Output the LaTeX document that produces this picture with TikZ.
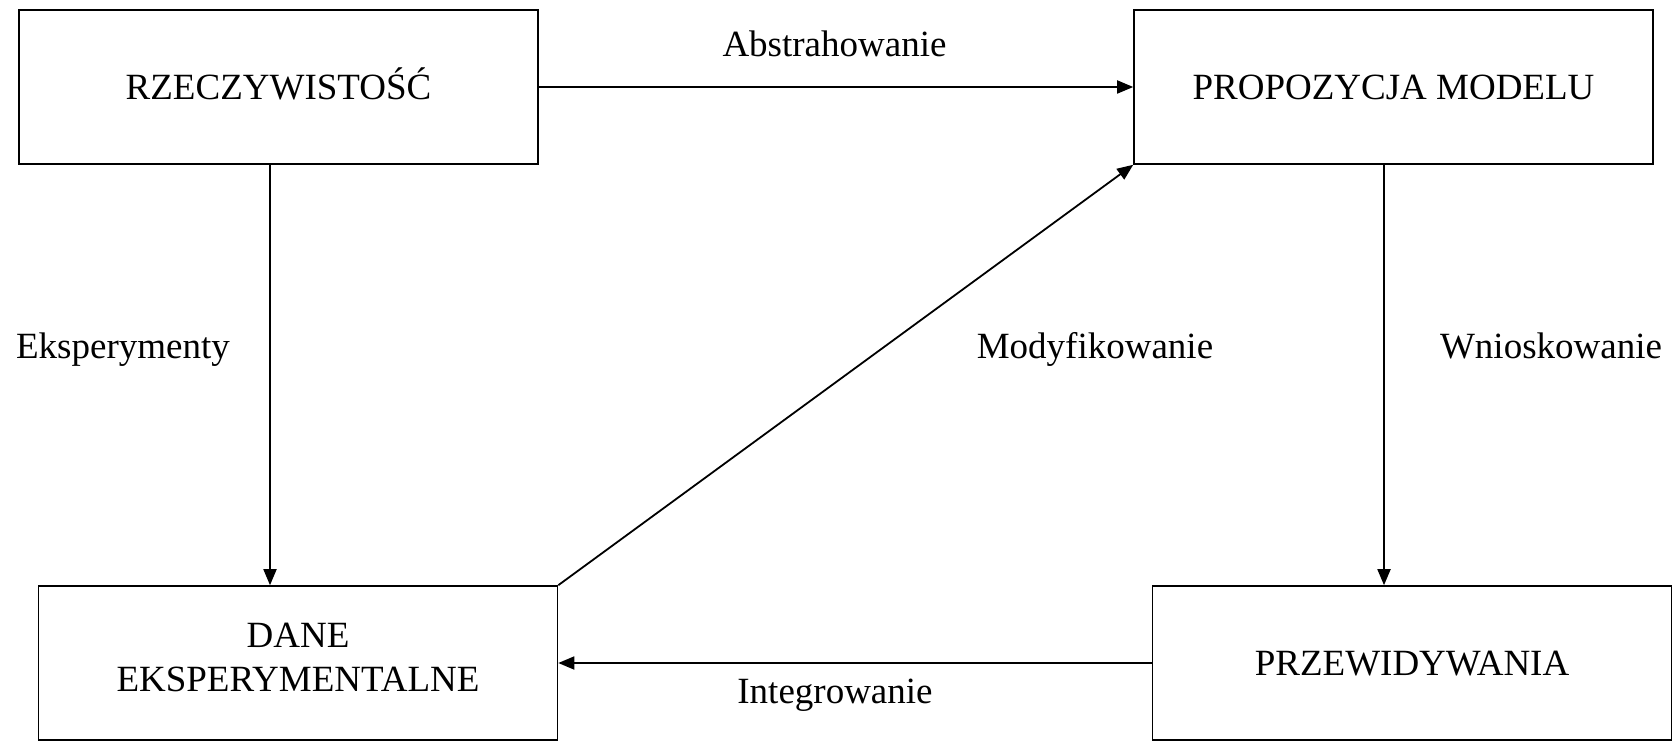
\documentclass[tikz,border=0pt]{standalone}
\usepackage{fontspec}
\setmainfont{Liberation Serif}
\usetikzlibrary{arrows.meta}
\begin{document}
\begin{tikzpicture}[x=1pt,y=-1pt,
  box/.style={draw, line width=1.6pt, minimum width=519pt, minimum height=154pt,
    inner sep=0pt, align=center, font=\fontsize{37}{44}\selectfont,
    text height=24.5pt, text depth=0pt},
  lbl/.style={inner sep=0pt, anchor=base, font=\fontsize{37}{44}\selectfont},
  arr/.style={line width=1.8pt, -{Triangle[length=16pt,width=13pt]}}]
\useasboundingbox (0,0) rectangle (1678,741);
\fill[white] (0,0) rectangle (1678,741);

% the four stages
\node[box] (R)  at (278.5,87)  {RZECZYWISTOŚĆ};
\node[box] (P)  at (1393.5,87) {PROPOZYCJA MODELU};
\node[box, text height=68.5pt, text depth=12.5pt] (D)  at (298,663) {DANE\\EKSPERYMENTALNE};
\node[box] (PR) at (1412,663)  {PRZEWIDYWANIA};

% connections between stages
\draw[arr] (R.east) -- (P.west);
\draw[arr] ([xshift=-8.5pt]R.south) -- ([xshift=-28pt]D.north);
\draw[arr] ([xshift=-9.5pt]P.south) -- ([xshift=-28pt]PR.north);
\draw[arr] (PR.west) -- (D.east);
\draw[arr] (D.north east) -- (P.south west);

% connection labels
\node[lbl] (lA) at (834.5,57)  {Abstrahowanie};
\node[lbl] (lE) at (123,358)   {Eksperymenty};
\node[lbl] (lM) at (1095,358)  {Modyfikowanie};
\node[lbl] (lW) at (1551,358)  {Wnioskowanie};
\node[lbl] (lI) at (835,703)   {Integrowanie};
\end{tikzpicture}
\end{document}
